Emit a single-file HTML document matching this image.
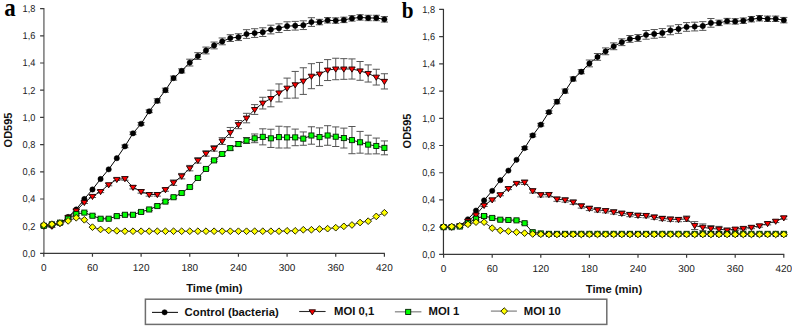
<!DOCTYPE html>
<html><head><meta charset="utf-8"><style>
html,body{margin:0;padding:0;background:#fff;}
body{width:792px;height:326px;overflow:hidden;}
svg{display:block;font-family:'Liberation Sans',sans-serif}
</style></head><body>
<svg width="792" height="326" viewBox="0 0 792 326">
<rect width="792" height="326" fill="#fff"/>
<path d="M43.9 8.1V253.9" stroke="#808080" stroke-width="1.6" fill="none"/><path d="M43 253.4H384.9" stroke="#3a3a3a" stroke-width="1.4" fill="none"/><path d="M40.1 253.4H43.9M40.1 226.2H43.9M40.1 199H43.9M40.1 171.8H43.9M40.1 144.6H43.9M40.1 117.4H43.9M40.1 90.2H43.9M40.1 63H43.9M40.1 35.8H43.9M40.1 8.6H43.9M43.8 253.4V256.8M92.46 253.4V256.8M141.11 253.4V256.8M189.77 253.4V256.8M238.43 253.4V256.8M287.09 253.4V256.8M335.74 253.4V256.8M384.4 253.4V256.8" stroke="#3a3a3a" stroke-width="1.2" fill="none"/><text transform="translate(35.4 256.8) scale(0.92 1)" text-anchor="end" font-size="10" fill="#222" style="text-rendering:geometricPrecision">0,0</text><text transform="translate(35.4 229.6) scale(0.92 1)" text-anchor="end" font-size="10" fill="#222" style="text-rendering:geometricPrecision">0,2</text><text transform="translate(35.4 202.4) scale(0.92 1)" text-anchor="end" font-size="10" fill="#222" style="text-rendering:geometricPrecision">0,4</text><text transform="translate(35.4 175.2) scale(0.92 1)" text-anchor="end" font-size="10" fill="#222" style="text-rendering:geometricPrecision">0,6</text><text transform="translate(35.4 148) scale(0.92 1)" text-anchor="end" font-size="10" fill="#222" style="text-rendering:geometricPrecision">0,8</text><text transform="translate(35.4 120.8) scale(0.92 1)" text-anchor="end" font-size="10" fill="#222" style="text-rendering:geometricPrecision">1,0</text><text transform="translate(35.4 93.6) scale(0.92 1)" text-anchor="end" font-size="10" fill="#222" style="text-rendering:geometricPrecision">1,2</text><text transform="translate(35.4 66.4) scale(0.92 1)" text-anchor="end" font-size="10" fill="#222" style="text-rendering:geometricPrecision">1,4</text><text transform="translate(35.4 39.2) scale(0.92 1)" text-anchor="end" font-size="10" fill="#222" style="text-rendering:geometricPrecision">1,6</text><text transform="translate(35.4 12) scale(0.92 1)" text-anchor="end" font-size="10" fill="#222" style="text-rendering:geometricPrecision">1,8</text><text x="43.8" y="271" text-anchor="middle" font-size="10" fill="#222" style="text-rendering:geometricPrecision">0</text><text x="92.46" y="271" text-anchor="middle" font-size="10" fill="#222" style="text-rendering:geometricPrecision">60</text><text x="141.11" y="271" text-anchor="middle" font-size="10" fill="#222" style="text-rendering:geometricPrecision">120</text><text x="189.77" y="271" text-anchor="middle" font-size="10" fill="#222" style="text-rendering:geometricPrecision">180</text><text x="238.43" y="271" text-anchor="middle" font-size="10" fill="#222" style="text-rendering:geometricPrecision">240</text><text x="287.09" y="271" text-anchor="middle" font-size="10" fill="#222" style="text-rendering:geometricPrecision">300</text><text x="335.74" y="271" text-anchor="middle" font-size="10" fill="#222" style="text-rendering:geometricPrecision">360</text><text x="384.4" y="271" text-anchor="middle" font-size="10" fill="#222" style="text-rendering:geometricPrecision">420</text><text x="214.4" y="291.9" text-anchor="middle" font-size="11.2" font-weight="bold" fill="#111">Time (min)</text><text transform="translate(7.6 130) rotate(-90)" text-anchor="middle" font-size="11" font-weight="bold" fill="#111" y="4">OD595</text><text transform="translate(4.3 15.6) scale(0.9 1)" font-size="25.5" font-weight="bold" style="font-family:'Liberation Serif',serif" fill="#000">a</text><path d="M124.9 145.01V147.73M121.3 145.01H128.5M121.3 147.73H128.5M133 131.95V134.67M129.4 131.95H136.6M129.4 134.67H136.6M141.11 122.43V125.15M137.51 122.43H144.71M137.51 125.15H144.71M149.22 109.92V112.64M145.62 109.92H152.82M145.62 112.64H152.82M157.33 98.77V102.85M153.73 98.77H160.93M153.73 102.85H160.93M165.44 88.16V92.24M161.84 88.16H169.04M161.84 92.24H169.04M173.55 76.06V80.14M169.95 76.06H177.15M169.95 80.14H177.15M181.66 68.85V72.93M178.06 68.85H185.26M178.06 72.93H185.26M189.77 59.19V65.99M186.17 59.19H193.37M186.17 65.99H193.37M197.88 52.66V59.46M194.28 52.66H201.48M194.28 59.46H201.48M205.99 47.09V53.89M202.39 47.09H209.59M202.39 53.89H209.59M214.1 42.06V48.86M210.5 42.06H217.7M210.5 48.86H217.7M222.21 37.98V44.78M218.61 37.98H225.81M218.61 44.78H225.81M230.32 34.71V41.51M226.72 34.71H233.92M226.72 41.51H233.92M238.43 33.76V40.56M234.83 33.76H242.03M234.83 40.56H242.03M246.54 29.68V38.38M242.94 29.68H250.14M242.94 38.38H250.14M254.65 28.73V37.43M251.05 28.73H258.25M251.05 37.43H258.25M262.76 27.78V36.48M259.16 27.78H266.36M259.16 36.48H266.36M270.87 25.19V33.9M267.27 25.19H274.47M267.27 33.9H274.47M278.98 23.83V32.54M275.38 23.83H282.58M275.38 32.54H282.58M287.09 21.79V30.5M283.49 21.79H290.69M283.49 30.5H290.69M295.2 21.38V30.09M291.6 21.38H298.8M291.6 30.09H298.8M303.3 20.84V29.54M299.7 20.84H306.9M299.7 29.54H306.9M311.41 17.71V26.42M307.81 17.71H315.01M307.81 26.42H315.01M319.52 19.34V24.78M315.92 19.34H323.12M315.92 24.78H323.12M327.63 17.58V23.02M324.03 17.58H331.23M324.03 23.02H331.23M335.74 17.85V23.29M332.14 17.85H339.34M332.14 23.29H339.34M343.85 17.17V22.61M340.25 17.17H347.45M340.25 22.61H347.45M351.96 15.67V21.11M348.36 15.67H355.56M348.36 21.11H355.56M360.07 14.72V20.16M356.47 14.72H363.67M356.47 20.16H363.67M368.18 15.26V20.7M364.58 15.26H371.78M364.58 20.7H371.78M376.29 15.26V20.7M372.69 15.26H379.89M372.69 20.7H379.89M384.4 16.62V22.06M380.8 16.62H388M380.8 22.06H388" stroke="#555" stroke-width="1" fill="none"/><polyline points="43.8,225.79 51.91,225.79 60.02,223.21 68.13,216.95 76.24,209.47 84.35,199 92.46,189.48 100.57,179.01 108.68,169.35 116.79,158.2 124.9,146.37 133,133.31 141.11,123.79 149.22,111.28 157.33,100.81 165.44,90.2 173.55,78.1 181.66,70.89 189.77,62.59 197.88,56.06 205.99,50.49 214.1,45.46 222.21,41.38 230.32,38.11 238.43,37.16 246.54,34.03 254.65,33.08 262.76,32.13 270.87,29.54 278.98,28.18 287.09,26.14 295.2,25.74 303.3,25.19 311.41,22.06 319.52,22.06 327.63,20.3 335.74,20.57 343.85,19.89 351.96,18.39 360.07,17.44 368.18,17.98 376.29,17.98 384.4,19.34" fill="none" stroke="#000" stroke-width="1"/><circle cx="43.8" cy="225.79" r="2.65" fill="#000" stroke="#000" stroke-width="0.5"/><circle cx="51.91" cy="225.79" r="2.65" fill="#000" stroke="#000" stroke-width="0.5"/><circle cx="60.02" cy="223.21" r="2.65" fill="#000" stroke="#000" stroke-width="0.5"/><circle cx="68.13" cy="216.95" r="2.65" fill="#000" stroke="#000" stroke-width="0.5"/><circle cx="76.24" cy="209.47" r="2.65" fill="#000" stroke="#000" stroke-width="0.5"/><circle cx="84.35" cy="199" r="2.65" fill="#000" stroke="#000" stroke-width="0.5"/><circle cx="92.46" cy="189.48" r="2.65" fill="#000" stroke="#000" stroke-width="0.5"/><circle cx="100.57" cy="179.01" r="2.65" fill="#000" stroke="#000" stroke-width="0.5"/><circle cx="108.68" cy="169.35" r="2.65" fill="#000" stroke="#000" stroke-width="0.5"/><circle cx="116.79" cy="158.2" r="2.65" fill="#000" stroke="#000" stroke-width="0.5"/><circle cx="124.9" cy="146.37" r="2.65" fill="#000" stroke="#000" stroke-width="0.5"/><circle cx="133" cy="133.31" r="2.65" fill="#000" stroke="#000" stroke-width="0.5"/><circle cx="141.11" cy="123.79" r="2.65" fill="#000" stroke="#000" stroke-width="0.5"/><circle cx="149.22" cy="111.28" r="2.65" fill="#000" stroke="#000" stroke-width="0.5"/><circle cx="157.33" cy="100.81" r="2.65" fill="#000" stroke="#000" stroke-width="0.5"/><circle cx="165.44" cy="90.2" r="2.65" fill="#000" stroke="#000" stroke-width="0.5"/><circle cx="173.55" cy="78.1" r="2.65" fill="#000" stroke="#000" stroke-width="0.5"/><circle cx="181.66" cy="70.89" r="2.65" fill="#000" stroke="#000" stroke-width="0.5"/><circle cx="189.77" cy="62.59" r="2.65" fill="#000" stroke="#000" stroke-width="0.5"/><circle cx="197.88" cy="56.06" r="2.65" fill="#000" stroke="#000" stroke-width="0.5"/><circle cx="205.99" cy="50.49" r="2.65" fill="#000" stroke="#000" stroke-width="0.5"/><circle cx="214.1" cy="45.46" r="2.65" fill="#000" stroke="#000" stroke-width="0.5"/><circle cx="222.21" cy="41.38" r="2.65" fill="#000" stroke="#000" stroke-width="0.5"/><circle cx="230.32" cy="38.11" r="2.65" fill="#000" stroke="#000" stroke-width="0.5"/><circle cx="238.43" cy="37.16" r="2.65" fill="#000" stroke="#000" stroke-width="0.5"/><circle cx="246.54" cy="34.03" r="2.65" fill="#000" stroke="#000" stroke-width="0.5"/><circle cx="254.65" cy="33.08" r="2.65" fill="#000" stroke="#000" stroke-width="0.5"/><circle cx="262.76" cy="32.13" r="2.65" fill="#000" stroke="#000" stroke-width="0.5"/><circle cx="270.87" cy="29.54" r="2.65" fill="#000" stroke="#000" stroke-width="0.5"/><circle cx="278.98" cy="28.18" r="2.65" fill="#000" stroke="#000" stroke-width="0.5"/><circle cx="287.09" cy="26.14" r="2.65" fill="#000" stroke="#000" stroke-width="0.5"/><circle cx="295.2" cy="25.74" r="2.65" fill="#000" stroke="#000" stroke-width="0.5"/><circle cx="303.3" cy="25.19" r="2.65" fill="#000" stroke="#000" stroke-width="0.5"/><circle cx="311.41" cy="22.06" r="2.65" fill="#000" stroke="#000" stroke-width="0.5"/><circle cx="319.52" cy="22.06" r="2.65" fill="#000" stroke="#000" stroke-width="0.5"/><circle cx="327.63" cy="20.3" r="2.65" fill="#000" stroke="#000" stroke-width="0.5"/><circle cx="335.74" cy="20.57" r="2.65" fill="#000" stroke="#000" stroke-width="0.5"/><circle cx="343.85" cy="19.89" r="2.65" fill="#000" stroke="#000" stroke-width="0.5"/><circle cx="351.96" cy="18.39" r="2.65" fill="#000" stroke="#000" stroke-width="0.5"/><circle cx="360.07" cy="17.44" r="2.65" fill="#000" stroke="#000" stroke-width="0.5"/><circle cx="368.18" cy="17.98" r="2.65" fill="#000" stroke="#000" stroke-width="0.5"/><circle cx="376.29" cy="17.98" r="2.65" fill="#000" stroke="#000" stroke-width="0.5"/><circle cx="384.4" cy="19.34" r="2.65" fill="#000" stroke="#000" stroke-width="0.5"/><path d="M43.8 225.11V227.29M40.2 225.11H47.4M40.2 227.29H47.4M51.91 225.11V227.29M48.31 225.11H55.51M48.31 227.29H55.51M60.02 222.39V224.57M56.42 222.39H63.62M56.42 224.57H63.62M68.13 216.27V218.45M64.53 216.27H71.73M64.53 218.45H71.73M76.24 209.74V211.92M72.64 209.74H79.84M72.64 211.92H79.84M84.35 201.31V203.49M80.75 201.31H87.95M80.75 203.49H87.95M92.46 195.33V197.5M88.86 195.33H96.06M88.86 197.5H96.06M100.57 190.43V192.61M96.97 190.43H104.17M96.97 192.61H104.17M108.68 183.63V185.81M105.08 183.63H112.28M105.08 185.81H112.28M116.79 178.33V180.5M113.19 178.33H120.39M113.19 180.5H120.39M124.9 176.97V180.23M121.3 176.97H128.5M121.3 180.23H128.5M133 185.67V188.94M129.4 185.67H136.6M129.4 188.94H136.6M141.11 189.89V193.15M137.51 189.89H144.71M137.51 193.15H144.71M149.22 192.88V196.14M145.62 192.88H152.82M145.62 196.14H152.82M157.33 192.88V196.14M153.73 192.88H160.93M153.73 196.14H160.93M165.44 187.98V191.25M161.84 187.98H169.04M161.84 191.25H169.04M173.55 179.96V185.4M169.95 179.96H177.15M169.95 185.4H177.15M181.66 173.43V178.87M178.06 173.43H185.26M178.06 178.87H185.26M189.77 165.41V170.85M186.17 165.41H193.37M186.17 170.85H193.37M197.88 157.66V163.1M194.28 157.66H201.48M194.28 163.1H201.48M205.99 150.72V156.16M202.39 150.72H209.59M202.39 156.16H209.59M214.1 145.69V151.13M210.5 145.69H217.7M210.5 151.13H217.7M222.21 137.66V144.46M218.61 137.66H225.81M218.61 144.46H225.81M230.32 127.46V137.53M226.72 127.46H233.92M226.72 137.53H233.92M238.43 120.53V128.69M234.83 120.53H242.03M234.83 128.69H242.03M246.54 113.32V122.84M242.94 113.32H250.14M242.94 122.84H250.14M254.65 104.62V114.41M251.05 104.62H258.25M251.05 114.41H258.25M262.76 97.27V108.97M259.16 97.27H266.36M259.16 108.97H266.36M270.87 90.2V106.79M267.27 90.2H274.47M267.27 106.79H274.47M278.98 83.94V101.9M275.38 83.94H282.58M275.38 101.9H282.58M287.09 78.1V98.22M283.49 78.1H290.69M283.49 98.22H290.69M295.2 71.43V98.09M291.6 71.43H298.8M291.6 98.09H298.8M303.3 67.76V94.42M299.7 67.76H306.9M299.7 94.42H306.9M311.41 63.68V88.7M307.81 63.68H315.01M307.81 88.7H315.01M319.52 62.46V85.58M315.92 62.46H323.12M315.92 85.58H323.12M327.63 59.6V80.54M324.03 59.6H331.23M324.03 80.54H331.23M335.74 58.24V79.73M332.14 58.24H339.34M332.14 79.73H339.34M343.85 58.65V79.32M340.25 58.65H347.45M340.25 79.32H347.45M351.96 58.92V79.05M348.36 58.92H355.56M348.36 79.05H355.56M360.07 61.5V80.27M356.47 61.5H363.67M356.47 80.27H363.67M368.18 64.9V82.04M364.58 64.9H371.78M364.58 82.04H371.78M376.29 69.26V85.03M372.69 69.26H379.89M372.69 85.03H379.89M384.4 73.74V88.98M380.8 73.74H388M380.8 88.98H388" stroke="#555" stroke-width="1" fill="none"/><polyline points="43.8,226.2 51.91,226.2 60.02,223.48 68.13,217.36 76.24,210.83 84.35,202.4 92.46,196.42 100.57,191.52 108.68,184.72 116.79,179.42 124.9,178.6 133,187.3 141.11,191.52 149.22,194.51 157.33,194.51 165.44,189.62 173.55,182.68 181.66,176.15 189.77,168.13 197.88,160.38 205.99,153.44 214.1,148.41 222.21,141.06 230.32,132.5 238.43,124.61 246.54,118.08 254.65,109.51 262.76,103.12 270.87,98.5 278.98,92.92 287.09,88.16 295.2,84.76 303.3,81.09 311.41,76.19 319.52,74.02 327.63,70.07 335.74,68.98 343.85,68.98 351.96,68.98 360.07,70.89 368.18,73.47 376.29,77.14 384.4,81.36" fill="none" stroke="#1a1a1a" stroke-width="1"/><path d="M40.6 224.2L47 224.2L43.8 229.35Z" fill="#ff0000" stroke="#1a0000" stroke-width="0.9" stroke-linejoin="miter"/><path d="M48.71 224.2L55.11 224.2L51.91 229.35Z" fill="#ff0000" stroke="#1a0000" stroke-width="0.9" stroke-linejoin="miter"/><path d="M56.82 221.48L63.22 221.48L60.02 226.63Z" fill="#ff0000" stroke="#1a0000" stroke-width="0.9" stroke-linejoin="miter"/><path d="M64.93 215.36L71.33 215.36L68.13 220.51Z" fill="#ff0000" stroke="#1a0000" stroke-width="0.9" stroke-linejoin="miter"/><path d="M73.04 208.83L79.44 208.83L76.24 213.98Z" fill="#ff0000" stroke="#1a0000" stroke-width="0.9" stroke-linejoin="miter"/><path d="M81.15 200.4L87.55 200.4L84.35 205.55Z" fill="#ff0000" stroke="#1a0000" stroke-width="0.9" stroke-linejoin="miter"/><path d="M89.26 194.42L95.66 194.42L92.46 199.57Z" fill="#ff0000" stroke="#1a0000" stroke-width="0.9" stroke-linejoin="miter"/><path d="M97.37 189.52L103.77 189.52L100.57 194.67Z" fill="#ff0000" stroke="#1a0000" stroke-width="0.9" stroke-linejoin="miter"/><path d="M105.48 182.72L111.88 182.72L108.68 187.87Z" fill="#ff0000" stroke="#1a0000" stroke-width="0.9" stroke-linejoin="miter"/><path d="M113.59 177.42L119.99 177.42L116.79 182.57Z" fill="#ff0000" stroke="#1a0000" stroke-width="0.9" stroke-linejoin="miter"/><path d="M121.7 176.6L128.1 176.6L124.9 181.75Z" fill="#ff0000" stroke="#1a0000" stroke-width="0.9" stroke-linejoin="miter"/><path d="M129.8 185.3L136.2 185.3L133 190.45Z" fill="#ff0000" stroke="#1a0000" stroke-width="0.9" stroke-linejoin="miter"/><path d="M137.91 189.52L144.31 189.52L141.11 194.67Z" fill="#ff0000" stroke="#1a0000" stroke-width="0.9" stroke-linejoin="miter"/><path d="M146.02 192.51L152.42 192.51L149.22 197.66Z" fill="#ff0000" stroke="#1a0000" stroke-width="0.9" stroke-linejoin="miter"/><path d="M154.13 192.51L160.53 192.51L157.33 197.66Z" fill="#ff0000" stroke="#1a0000" stroke-width="0.9" stroke-linejoin="miter"/><path d="M162.24 187.62L168.64 187.62L165.44 192.77Z" fill="#ff0000" stroke="#1a0000" stroke-width="0.9" stroke-linejoin="miter"/><path d="M170.35 180.68L176.75 180.68L173.55 185.83Z" fill="#ff0000" stroke="#1a0000" stroke-width="0.9" stroke-linejoin="miter"/><path d="M178.46 174.15L184.86 174.15L181.66 179.3Z" fill="#ff0000" stroke="#1a0000" stroke-width="0.9" stroke-linejoin="miter"/><path d="M186.57 166.13L192.97 166.13L189.77 171.28Z" fill="#ff0000" stroke="#1a0000" stroke-width="0.9" stroke-linejoin="miter"/><path d="M194.68 158.38L201.08 158.38L197.88 163.53Z" fill="#ff0000" stroke="#1a0000" stroke-width="0.9" stroke-linejoin="miter"/><path d="M202.79 151.44L209.19 151.44L205.99 156.59Z" fill="#ff0000" stroke="#1a0000" stroke-width="0.9" stroke-linejoin="miter"/><path d="M210.9 146.41L217.3 146.41L214.1 151.56Z" fill="#ff0000" stroke="#1a0000" stroke-width="0.9" stroke-linejoin="miter"/><path d="M219.01 139.06L225.41 139.06L222.21 144.21Z" fill="#ff0000" stroke="#1a0000" stroke-width="0.9" stroke-linejoin="miter"/><path d="M227.12 130.5L233.52 130.5L230.32 135.65Z" fill="#ff0000" stroke="#1a0000" stroke-width="0.9" stroke-linejoin="miter"/><path d="M235.23 122.61L241.63 122.61L238.43 127.76Z" fill="#ff0000" stroke="#1a0000" stroke-width="0.9" stroke-linejoin="miter"/><path d="M243.34 116.08L249.74 116.08L246.54 121.23Z" fill="#ff0000" stroke="#1a0000" stroke-width="0.9" stroke-linejoin="miter"/><path d="M251.45 107.51L257.85 107.51L254.65 112.66Z" fill="#ff0000" stroke="#1a0000" stroke-width="0.9" stroke-linejoin="miter"/><path d="M259.56 101.12L265.96 101.12L262.76 106.27Z" fill="#ff0000" stroke="#1a0000" stroke-width="0.9" stroke-linejoin="miter"/><path d="M267.67 96.5L274.07 96.5L270.87 101.65Z" fill="#ff0000" stroke="#1a0000" stroke-width="0.9" stroke-linejoin="miter"/><path d="M275.78 90.92L282.18 90.92L278.98 96.07Z" fill="#ff0000" stroke="#1a0000" stroke-width="0.9" stroke-linejoin="miter"/><path d="M283.89 86.16L290.29 86.16L287.09 91.31Z" fill="#ff0000" stroke="#1a0000" stroke-width="0.9" stroke-linejoin="miter"/><path d="M292 82.76L298.4 82.76L295.2 87.91Z" fill="#ff0000" stroke="#1a0000" stroke-width="0.9" stroke-linejoin="miter"/><path d="M300.1 79.09L306.5 79.09L303.3 84.24Z" fill="#ff0000" stroke="#1a0000" stroke-width="0.9" stroke-linejoin="miter"/><path d="M308.21 74.19L314.61 74.19L311.41 79.34Z" fill="#ff0000" stroke="#1a0000" stroke-width="0.9" stroke-linejoin="miter"/><path d="M316.32 72.02L322.72 72.02L319.52 77.17Z" fill="#ff0000" stroke="#1a0000" stroke-width="0.9" stroke-linejoin="miter"/><path d="M324.43 68.07L330.83 68.07L327.63 73.22Z" fill="#ff0000" stroke="#1a0000" stroke-width="0.9" stroke-linejoin="miter"/><path d="M332.54 66.98L338.94 66.98L335.74 72.13Z" fill="#ff0000" stroke="#1a0000" stroke-width="0.9" stroke-linejoin="miter"/><path d="M340.65 66.98L347.05 66.98L343.85 72.13Z" fill="#ff0000" stroke="#1a0000" stroke-width="0.9" stroke-linejoin="miter"/><path d="M348.76 66.98L355.16 66.98L351.96 72.13Z" fill="#ff0000" stroke="#1a0000" stroke-width="0.9" stroke-linejoin="miter"/><path d="M356.87 68.89L363.27 68.89L360.07 74.04Z" fill="#ff0000" stroke="#1a0000" stroke-width="0.9" stroke-linejoin="miter"/><path d="M364.98 71.47L371.38 71.47L368.18 76.62Z" fill="#ff0000" stroke="#1a0000" stroke-width="0.9" stroke-linejoin="miter"/><path d="M373.09 75.14L379.49 75.14L376.29 80.29Z" fill="#ff0000" stroke="#1a0000" stroke-width="0.9" stroke-linejoin="miter"/><path d="M381.2 79.36L387.6 79.36L384.4 84.51Z" fill="#ff0000" stroke="#1a0000" stroke-width="0.9" stroke-linejoin="miter"/><path d="M43.8 224.7V226.88M40.2 224.7H47.4M40.2 226.88H47.4M51.91 223.21V225.38M48.31 223.21H55.51M48.31 225.38H55.51M60.02 221.58V223.75M56.42 221.58H63.62M56.42 223.75H63.62M68.13 217.63V219.81M64.53 217.63H71.73M64.53 219.81H71.73M76.24 213.01V215.18M72.64 213.01H79.84M72.64 215.18H79.84M84.35 211.51V213.69M80.75 211.51H87.95M80.75 213.69H87.95M92.46 214.64V216.82M88.86 214.64H96.06M88.86 216.82H96.06M100.57 217.63V219.81M96.97 217.63H104.17M96.97 219.81H104.17M108.68 217.63V219.81M105.08 217.63H112.28M105.08 219.81H112.28M116.79 215.05V217.22M113.19 215.05H120.39M113.19 217.22H120.39M124.9 213.69V215.86M121.3 213.69H128.5M121.3 215.86H128.5M133 213.69V215.86M129.4 213.69H136.6M129.4 215.86H136.6M141.11 210.83V213.01M137.51 210.83H144.71M137.51 213.01H144.71M149.22 208.38V210.56M145.62 208.38H152.82M145.62 210.56H152.82M157.33 204.98V207.16M153.73 204.98H160.93M153.73 207.16H160.93M165.44 200.5V202.67M161.84 200.5H169.04M161.84 202.67H169.04M173.55 196.14V198.32M169.95 196.14H177.15M169.95 198.32H177.15M181.66 191.93V194.1M178.06 191.93H185.26M178.06 194.1H185.26M189.77 185.94V188.12M186.17 185.94H193.37M186.17 188.12H193.37M197.88 176.83V179.01M194.28 176.83H201.48M194.28 179.01H201.48M205.99 167.86V170.03M202.39 167.86H209.59M202.39 170.03H209.59M214.1 159.29V161.46M210.5 159.29H217.7M210.5 161.46H217.7M222.21 152.35V155.62M218.61 152.35H225.81M218.61 155.62H225.81M230.32 146.1V150.18M226.72 146.1H233.92M226.72 150.18H233.92M238.43 141.61V146.5M234.83 141.61H242.03M234.83 146.5H242.03M246.54 137.53V143.51M242.94 137.53H250.14M242.94 143.51H250.14M254.65 133.99V142.7M251.05 133.99H258.25M251.05 142.7H258.25M262.76 128.82V144.87M259.16 128.82H266.36M259.16 144.87H266.36M270.87 129.23V147.46M267.27 129.23H274.47M267.27 147.46H274.47M278.98 126.24V148M275.38 126.24H282.58M275.38 148H282.58M287.09 126.78V148M283.49 126.78H290.69M283.49 148H290.69M295.2 129.1V145.69M291.6 129.1H298.8M291.6 145.69H298.8M303.3 131.95V145.28M299.7 131.95H306.9M299.7 145.28H306.9M311.41 126.78V144.19M307.81 126.78H315.01M307.81 144.19H315.01M319.52 127.87V146.37M315.92 127.87H323.12M315.92 146.37H323.12M327.63 125.7V145.28M324.03 125.7H331.23M324.03 145.28H331.23M335.74 126.92V146.5M332.14 126.92H339.34M332.14 146.5H339.34M343.85 128.14V148M340.25 128.14H347.45M340.25 148H347.45M351.96 126.51V153.71M348.36 126.51H355.56M348.36 153.71H355.56M360.07 131.41V153.17M356.47 131.41H363.67M356.47 153.17H363.67M368.18 135.22V153.98M364.58 135.22H371.78M364.58 153.98H371.78M376.29 138.07V153.85M372.69 138.07H379.89M372.69 153.85H379.89M384.4 140.93V154.8M380.8 140.93H388M380.8 154.8H388" stroke="#555" stroke-width="1" fill="none"/><polyline points="43.8,225.79 51.91,224.3 60.02,222.66 68.13,218.72 76.24,214.1 84.35,212.6 92.46,215.73 100.57,218.72 108.68,218.72 116.79,216.14 124.9,214.78 133,214.78 141.11,211.92 149.22,209.47 157.33,206.07 165.44,201.58 173.55,197.23 181.66,193.02 189.77,187.03 197.88,177.92 205.99,168.94 214.1,160.38 222.21,153.98 230.32,148.14 238.43,144.06 246.54,140.52 254.65,138.34 262.76,136.85 270.87,138.34 278.98,137.12 287.09,137.39 295.2,137.39 303.3,138.62 311.41,135.49 319.52,137.12 327.63,135.49 335.74,136.71 343.85,138.07 351.96,140.11 360.07,142.29 368.18,144.6 376.29,145.96 384.4,147.86" fill="none" stroke="#1a1a1a" stroke-width="1"/><rect x="41.25" y="223.24" width="5.1" height="5.1" fill="#00ff00" stroke="#042004" stroke-width="0.9"/><rect x="49.36" y="221.75" width="5.1" height="5.1" fill="#00ff00" stroke="#042004" stroke-width="0.9"/><rect x="57.47" y="220.11" width="5.1" height="5.1" fill="#00ff00" stroke="#042004" stroke-width="0.9"/><rect x="65.58" y="216.17" width="5.1" height="5.1" fill="#00ff00" stroke="#042004" stroke-width="0.9"/><rect x="73.69" y="211.55" width="5.1" height="5.1" fill="#00ff00" stroke="#042004" stroke-width="0.9"/><rect x="81.8" y="210.05" width="5.1" height="5.1" fill="#00ff00" stroke="#042004" stroke-width="0.9"/><rect x="89.91" y="213.18" width="5.1" height="5.1" fill="#00ff00" stroke="#042004" stroke-width="0.9"/><rect x="98.02" y="216.17" width="5.1" height="5.1" fill="#00ff00" stroke="#042004" stroke-width="0.9"/><rect x="106.13" y="216.17" width="5.1" height="5.1" fill="#00ff00" stroke="#042004" stroke-width="0.9"/><rect x="114.24" y="213.59" width="5.1" height="5.1" fill="#00ff00" stroke="#042004" stroke-width="0.9"/><rect x="122.35" y="212.23" width="5.1" height="5.1" fill="#00ff00" stroke="#042004" stroke-width="0.9"/><rect x="130.45" y="212.23" width="5.1" height="5.1" fill="#00ff00" stroke="#042004" stroke-width="0.9"/><rect x="138.56" y="209.37" width="5.1" height="5.1" fill="#00ff00" stroke="#042004" stroke-width="0.9"/><rect x="146.67" y="206.92" width="5.1" height="5.1" fill="#00ff00" stroke="#042004" stroke-width="0.9"/><rect x="154.78" y="203.52" width="5.1" height="5.1" fill="#00ff00" stroke="#042004" stroke-width="0.9"/><rect x="162.89" y="199.03" width="5.1" height="5.1" fill="#00ff00" stroke="#042004" stroke-width="0.9"/><rect x="171" y="194.68" width="5.1" height="5.1" fill="#00ff00" stroke="#042004" stroke-width="0.9"/><rect x="179.11" y="190.47" width="5.1" height="5.1" fill="#00ff00" stroke="#042004" stroke-width="0.9"/><rect x="187.22" y="184.48" width="5.1" height="5.1" fill="#00ff00" stroke="#042004" stroke-width="0.9"/><rect x="195.33" y="175.37" width="5.1" height="5.1" fill="#00ff00" stroke="#042004" stroke-width="0.9"/><rect x="203.44" y="166.39" width="5.1" height="5.1" fill="#00ff00" stroke="#042004" stroke-width="0.9"/><rect x="211.55" y="157.83" width="5.1" height="5.1" fill="#00ff00" stroke="#042004" stroke-width="0.9"/><rect x="219.66" y="151.43" width="5.1" height="5.1" fill="#00ff00" stroke="#042004" stroke-width="0.9"/><rect x="227.77" y="145.59" width="5.1" height="5.1" fill="#00ff00" stroke="#042004" stroke-width="0.9"/><rect x="235.88" y="141.51" width="5.1" height="5.1" fill="#00ff00" stroke="#042004" stroke-width="0.9"/><rect x="243.99" y="137.97" width="5.1" height="5.1" fill="#00ff00" stroke="#042004" stroke-width="0.9"/><rect x="252.1" y="135.79" width="5.1" height="5.1" fill="#00ff00" stroke="#042004" stroke-width="0.9"/><rect x="260.21" y="134.3" width="5.1" height="5.1" fill="#00ff00" stroke="#042004" stroke-width="0.9"/><rect x="268.32" y="135.79" width="5.1" height="5.1" fill="#00ff00" stroke="#042004" stroke-width="0.9"/><rect x="276.43" y="134.57" width="5.1" height="5.1" fill="#00ff00" stroke="#042004" stroke-width="0.9"/><rect x="284.54" y="134.84" width="5.1" height="5.1" fill="#00ff00" stroke="#042004" stroke-width="0.9"/><rect x="292.65" y="134.84" width="5.1" height="5.1" fill="#00ff00" stroke="#042004" stroke-width="0.9"/><rect x="300.75" y="136.07" width="5.1" height="5.1" fill="#00ff00" stroke="#042004" stroke-width="0.9"/><rect x="308.86" y="132.94" width="5.1" height="5.1" fill="#00ff00" stroke="#042004" stroke-width="0.9"/><rect x="316.97" y="134.57" width="5.1" height="5.1" fill="#00ff00" stroke="#042004" stroke-width="0.9"/><rect x="325.08" y="132.94" width="5.1" height="5.1" fill="#00ff00" stroke="#042004" stroke-width="0.9"/><rect x="333.19" y="134.16" width="5.1" height="5.1" fill="#00ff00" stroke="#042004" stroke-width="0.9"/><rect x="341.3" y="135.52" width="5.1" height="5.1" fill="#00ff00" stroke="#042004" stroke-width="0.9"/><rect x="349.41" y="137.56" width="5.1" height="5.1" fill="#00ff00" stroke="#042004" stroke-width="0.9"/><rect x="357.52" y="139.74" width="5.1" height="5.1" fill="#00ff00" stroke="#042004" stroke-width="0.9"/><rect x="365.63" y="142.05" width="5.1" height="5.1" fill="#00ff00" stroke="#042004" stroke-width="0.9"/><rect x="373.74" y="143.41" width="5.1" height="5.1" fill="#00ff00" stroke="#042004" stroke-width="0.9"/><rect x="381.85" y="145.31" width="5.1" height="5.1" fill="#00ff00" stroke="#042004" stroke-width="0.9"/><polyline points="43.8,224.98 51.91,224.16 60.02,223.07 68.13,220.9 76.24,217.77 84.35,219.81 92.46,227.15 100.57,229.46 108.68,230.42 116.79,230.82 124.9,231.23 133,231.23 141.11,231.23 149.22,231.23 157.33,231.23 165.44,231.23 173.55,231.23 181.66,231.23 189.77,231.23 197.88,231.23 205.99,231.23 214.1,231.23 222.21,231.23 230.32,231.23 238.43,231.23 246.54,231.23 254.65,231.23 262.76,231.23 270.87,231.23 278.98,231.23 287.09,230.82 295.2,230.82 303.3,229.74 311.41,229.74 319.52,229.06 327.63,228.65 335.74,227.7 343.85,226.34 351.96,224.98 360.07,222.53 368.18,221.17 376.29,216.41 384.4,212.74" fill="none" stroke="#333" stroke-width="1"/><path d="M43.8 221.63L47.15 224.98L43.8 228.33L40.45 224.98Z" fill="#ffff00" stroke="#262600" stroke-width="1"/><path d="M51.91 220.81L55.26 224.16L51.91 227.51L48.56 224.16Z" fill="#ffff00" stroke="#262600" stroke-width="1"/><path d="M60.02 219.72L63.37 223.07L60.02 226.42L56.67 223.07Z" fill="#ffff00" stroke="#262600" stroke-width="1"/><path d="M68.13 217.55L71.48 220.9L68.13 224.25L64.78 220.9Z" fill="#ffff00" stroke="#262600" stroke-width="1"/><path d="M76.24 214.42L79.59 217.77L76.24 221.12L72.89 217.77Z" fill="#ffff00" stroke="#262600" stroke-width="1"/><path d="M84.35 216.46L87.7 219.81L84.35 223.16L81 219.81Z" fill="#ffff00" stroke="#262600" stroke-width="1"/><path d="M92.46 223.8L95.81 227.15L92.46 230.5L89.11 227.15Z" fill="#ffff00" stroke="#262600" stroke-width="1"/><path d="M100.57 226.11L103.92 229.46L100.57 232.81L97.22 229.46Z" fill="#ffff00" stroke="#262600" stroke-width="1"/><path d="M108.68 227.07L112.03 230.42L108.68 233.77L105.33 230.42Z" fill="#ffff00" stroke="#262600" stroke-width="1"/><path d="M116.79 227.47L120.14 230.82L116.79 234.17L113.44 230.82Z" fill="#ffff00" stroke="#262600" stroke-width="1"/><path d="M124.9 227.88L128.25 231.23L124.9 234.58L121.55 231.23Z" fill="#ffff00" stroke="#262600" stroke-width="1"/><path d="M133 227.88L136.35 231.23L133 234.58L129.65 231.23Z" fill="#ffff00" stroke="#262600" stroke-width="1"/><path d="M141.11 227.88L144.46 231.23L141.11 234.58L137.76 231.23Z" fill="#ffff00" stroke="#262600" stroke-width="1"/><path d="M149.22 227.88L152.57 231.23L149.22 234.58L145.87 231.23Z" fill="#ffff00" stroke="#262600" stroke-width="1"/><path d="M157.33 227.88L160.68 231.23L157.33 234.58L153.98 231.23Z" fill="#ffff00" stroke="#262600" stroke-width="1"/><path d="M165.44 227.88L168.79 231.23L165.44 234.58L162.09 231.23Z" fill="#ffff00" stroke="#262600" stroke-width="1"/><path d="M173.55 227.88L176.9 231.23L173.55 234.58L170.2 231.23Z" fill="#ffff00" stroke="#262600" stroke-width="1"/><path d="M181.66 227.88L185.01 231.23L181.66 234.58L178.31 231.23Z" fill="#ffff00" stroke="#262600" stroke-width="1"/><path d="M189.77 227.88L193.12 231.23L189.77 234.58L186.42 231.23Z" fill="#ffff00" stroke="#262600" stroke-width="1"/><path d="M197.88 227.88L201.23 231.23L197.88 234.58L194.53 231.23Z" fill="#ffff00" stroke="#262600" stroke-width="1"/><path d="M205.99 227.88L209.34 231.23L205.99 234.58L202.64 231.23Z" fill="#ffff00" stroke="#262600" stroke-width="1"/><path d="M214.1 227.88L217.45 231.23L214.1 234.58L210.75 231.23Z" fill="#ffff00" stroke="#262600" stroke-width="1"/><path d="M222.21 227.88L225.56 231.23L222.21 234.58L218.86 231.23Z" fill="#ffff00" stroke="#262600" stroke-width="1"/><path d="M230.32 227.88L233.67 231.23L230.32 234.58L226.97 231.23Z" fill="#ffff00" stroke="#262600" stroke-width="1"/><path d="M238.43 227.88L241.78 231.23L238.43 234.58L235.08 231.23Z" fill="#ffff00" stroke="#262600" stroke-width="1"/><path d="M246.54 227.88L249.89 231.23L246.54 234.58L243.19 231.23Z" fill="#ffff00" stroke="#262600" stroke-width="1"/><path d="M254.65 227.88L258 231.23L254.65 234.58L251.3 231.23Z" fill="#ffff00" stroke="#262600" stroke-width="1"/><path d="M262.76 227.88L266.11 231.23L262.76 234.58L259.41 231.23Z" fill="#ffff00" stroke="#262600" stroke-width="1"/><path d="M270.87 227.88L274.22 231.23L270.87 234.58L267.52 231.23Z" fill="#ffff00" stroke="#262600" stroke-width="1"/><path d="M278.98 227.88L282.33 231.23L278.98 234.58L275.63 231.23Z" fill="#ffff00" stroke="#262600" stroke-width="1"/><path d="M287.09 227.47L290.44 230.82L287.09 234.17L283.74 230.82Z" fill="#ffff00" stroke="#262600" stroke-width="1"/><path d="M295.2 227.47L298.55 230.82L295.2 234.17L291.85 230.82Z" fill="#ffff00" stroke="#262600" stroke-width="1"/><path d="M303.3 226.39L306.65 229.74L303.3 233.09L299.95 229.74Z" fill="#ffff00" stroke="#262600" stroke-width="1"/><path d="M311.41 226.39L314.76 229.74L311.41 233.09L308.06 229.74Z" fill="#ffff00" stroke="#262600" stroke-width="1"/><path d="M319.52 225.71L322.87 229.06L319.52 232.41L316.17 229.06Z" fill="#ffff00" stroke="#262600" stroke-width="1"/><path d="M327.63 225.3L330.98 228.65L327.63 232L324.28 228.65Z" fill="#ffff00" stroke="#262600" stroke-width="1"/><path d="M335.74 224.35L339.09 227.7L335.74 231.05L332.39 227.7Z" fill="#ffff00" stroke="#262600" stroke-width="1"/><path d="M343.85 222.99L347.2 226.34L343.85 229.69L340.5 226.34Z" fill="#ffff00" stroke="#262600" stroke-width="1"/><path d="M351.96 221.63L355.31 224.98L351.96 228.33L348.61 224.98Z" fill="#ffff00" stroke="#262600" stroke-width="1"/><path d="M360.07 219.18L363.42 222.53L360.07 225.88L356.72 222.53Z" fill="#ffff00" stroke="#262600" stroke-width="1"/><path d="M368.18 217.82L371.53 221.17L368.18 224.52L364.83 221.17Z" fill="#ffff00" stroke="#262600" stroke-width="1"/><path d="M376.29 213.06L379.64 216.41L376.29 219.76L372.94 216.41Z" fill="#ffff00" stroke="#262600" stroke-width="1"/><path d="M384.4 209.39L387.75 212.74L384.4 216.09L381.05 212.74Z" fill="#ffff00" stroke="#262600" stroke-width="1"/><path d="M443.45 8.9V254.9" stroke="#333" stroke-width="1.2" fill="none"/><path d="M442.8 254.4H784.3" stroke="#3a3a3a" stroke-width="1.4" fill="none"/><path d="M439.15 254.4H443.45M439.15 227.18H443.45M439.15 199.96H443.45M439.15 172.73H443.45M439.15 145.51H443.45M439.15 118.29H443.45M439.15 91.07H443.45M439.15 63.84H443.45M439.15 36.62H443.45M439.15 9.4H443.45M443.6 254.4V257.8M492.2 254.4V257.8M540.8 254.4V257.8M589.4 254.4V257.8M638 254.4V257.8M686.6 254.4V257.8M735.2 254.4V257.8M783.8 254.4V257.8" stroke="#3a3a3a" stroke-width="1.2" fill="none"/><text transform="translate(435 257.8) scale(0.92 1)" text-anchor="end" font-size="10" fill="#222" style="text-rendering:geometricPrecision">0,0</text><text transform="translate(435 230.58) scale(0.92 1)" text-anchor="end" font-size="10" fill="#222" style="text-rendering:geometricPrecision">0,2</text><text transform="translate(435 203.36) scale(0.92 1)" text-anchor="end" font-size="10" fill="#222" style="text-rendering:geometricPrecision">0,4</text><text transform="translate(435 176.13) scale(0.92 1)" text-anchor="end" font-size="10" fill="#222" style="text-rendering:geometricPrecision">0,6</text><text transform="translate(435 148.91) scale(0.92 1)" text-anchor="end" font-size="10" fill="#222" style="text-rendering:geometricPrecision">0,8</text><text transform="translate(435 121.69) scale(0.92 1)" text-anchor="end" font-size="10" fill="#222" style="text-rendering:geometricPrecision">1,0</text><text transform="translate(435 94.47) scale(0.92 1)" text-anchor="end" font-size="10" fill="#222" style="text-rendering:geometricPrecision">1,2</text><text transform="translate(435 67.24) scale(0.92 1)" text-anchor="end" font-size="10" fill="#222" style="text-rendering:geometricPrecision">1,4</text><text transform="translate(435 40.02) scale(0.92 1)" text-anchor="end" font-size="10" fill="#222" style="text-rendering:geometricPrecision">1,6</text><text transform="translate(435 12.8) scale(0.92 1)" text-anchor="end" font-size="10" fill="#222" style="text-rendering:geometricPrecision">1,8</text><text x="443.6" y="272" text-anchor="middle" font-size="10" fill="#222" style="text-rendering:geometricPrecision">0</text><text x="492.2" y="272" text-anchor="middle" font-size="10" fill="#222" style="text-rendering:geometricPrecision">60</text><text x="540.8" y="272" text-anchor="middle" font-size="10" fill="#222" style="text-rendering:geometricPrecision">120</text><text x="589.4" y="272" text-anchor="middle" font-size="10" fill="#222" style="text-rendering:geometricPrecision">180</text><text x="638" y="272" text-anchor="middle" font-size="10" fill="#222" style="text-rendering:geometricPrecision">240</text><text x="686.6" y="272" text-anchor="middle" font-size="10" fill="#222" style="text-rendering:geometricPrecision">300</text><text x="735.2" y="272" text-anchor="middle" font-size="10" fill="#222" style="text-rendering:geometricPrecision">360</text><text x="783.8" y="272" text-anchor="middle" font-size="10" fill="#222" style="text-rendering:geometricPrecision">420</text><text x="614" y="293.1" text-anchor="middle" font-size="11.2" font-weight="bold" fill="#111">Time (min)</text><text transform="translate(406.6 131) rotate(-90)" text-anchor="middle" font-size="11" font-weight="bold" fill="#111" y="4">OD595</text><text transform="translate(401.7 17.9) scale(0.9 1)" font-size="23.5" font-weight="bold" style="font-family:'Liberation Serif',serif" fill="#000">b</text><path d="M524.6 146.74V149.46M521 146.74H528.2M521 149.46H528.2M532.7 134.08V136.8M529.1 134.08H536.3M529.1 136.8H536.3M540.8 123.33V126.05M537.2 123.33H544.4M537.2 126.05H544.4M548.9 110.8V113.53M545.3 110.8H552.5M545.3 113.53H552.5M557 99.64V103.72M553.4 99.64H560.6M553.4 103.72H560.6M565.1 89.02V93.11M561.5 89.02H568.7M561.5 93.11H568.7M573.2 76.91V80.99M569.6 76.91H576.8M569.6 80.99H576.8M581.3 69.7V73.78M577.7 69.7H584.9M577.7 73.78H584.9M589.4 60.03V66.84M585.8 60.03H593M585.8 66.84H593M597.5 53.5V60.31M593.9 53.5H601.1M593.9 60.31H601.1M605.6 47.92V54.73M602 47.92H609.2M602 54.73H609.2M613.7 42.88V49.69M610.1 42.88H617.3M610.1 49.69H617.3M621.8 38.8V45.61M618.2 38.8H625.4M618.2 45.61H625.4M629.9 35.53V42.34M626.3 35.53H633.5M626.3 42.34H633.5M638 34.58V41.39M634.4 34.58H641.6M634.4 41.39H641.6M646.1 30.5V39.21M642.5 30.5H649.7M642.5 39.21H649.7M654.2 29.54V38.26M650.6 29.54H657.8M650.6 38.26H657.8M662.3 28.59V37.3M658.7 28.59H665.9M658.7 37.3H665.9M670.4 26.01V34.72M666.8 26.01H674M666.8 34.72H674M678.5 24.64V33.36M674.9 24.64H682.1M674.9 33.36H682.1M686.6 22.6V31.31M683 22.6H690.2M683 31.31H690.2M694.7 22.19V30.91M691.1 22.19H698.3M691.1 30.91H698.3M702.8 21.65V30.36M699.2 21.65H706.4M699.2 30.36H706.4M710.9 18.52V27.23M707.3 18.52H714.5M707.3 27.23H714.5M719 20.15V25.6M715.4 20.15H722.6M715.4 25.6H722.6M727.1 18.38V23.83M723.5 18.38H730.7M723.5 23.83H730.7M735.2 18.66V24.1M731.6 18.66H738.8M731.6 24.1H738.8M743.3 17.98V23.42M739.7 17.98H746.9M739.7 23.42H746.9M751.4 16.48V21.92M747.8 16.48H755M747.8 21.92H755M759.5 15.52V20.97M755.9 15.52H763.1M755.9 20.97H763.1M767.6 16.07V21.51M764 16.07H771.2M764 21.51H771.2M775.7 16.07V21.51M772.1 16.07H779.3M772.1 21.51H779.3M783.8 17.43V22.87M780.2 17.43H787.4M780.2 22.87H787.4" stroke="#555" stroke-width="1" fill="none"/><polyline points="443.6,226.77 451.7,226.77 459.8,225.82 467.9,219.28 476,210.57 484.1,200.36 492.2,190.84 500.3,180.22 508.4,170.56 516.5,159.8 524.6,148.1 532.7,135.44 540.8,124.69 548.9,112.16 557,101.68 565.1,91.07 573.2,78.95 581.3,71.74 589.4,63.44 597.5,56.9 605.6,51.32 613.7,46.29 621.8,42.2 629.9,38.94 638,37.98 646.1,34.85 654.2,33.9 662.3,32.95 670.4,30.36 678.5,29 686.6,26.96 694.7,26.55 702.8,26.01 710.9,22.88 719,22.88 727.1,21.11 735.2,21.38 743.3,20.7 751.4,19.2 759.5,18.25 767.6,18.79 775.7,18.79 783.8,20.15" fill="none" stroke="#000" stroke-width="1"/><circle cx="443.6" cy="226.77" r="2.65" fill="#000" stroke="#000" stroke-width="0.5"/><circle cx="451.7" cy="226.77" r="2.65" fill="#000" stroke="#000" stroke-width="0.5"/><circle cx="459.8" cy="225.82" r="2.65" fill="#000" stroke="#000" stroke-width="0.5"/><circle cx="467.9" cy="219.28" r="2.65" fill="#000" stroke="#000" stroke-width="0.5"/><circle cx="476" cy="210.57" r="2.65" fill="#000" stroke="#000" stroke-width="0.5"/><circle cx="484.1" cy="200.36" r="2.65" fill="#000" stroke="#000" stroke-width="0.5"/><circle cx="492.2" cy="190.84" r="2.65" fill="#000" stroke="#000" stroke-width="0.5"/><circle cx="500.3" cy="180.22" r="2.65" fill="#000" stroke="#000" stroke-width="0.5"/><circle cx="508.4" cy="170.56" r="2.65" fill="#000" stroke="#000" stroke-width="0.5"/><circle cx="516.5" cy="159.8" r="2.65" fill="#000" stroke="#000" stroke-width="0.5"/><circle cx="524.6" cy="148.1" r="2.65" fill="#000" stroke="#000" stroke-width="0.5"/><circle cx="532.7" cy="135.44" r="2.65" fill="#000" stroke="#000" stroke-width="0.5"/><circle cx="540.8" cy="124.69" r="2.65" fill="#000" stroke="#000" stroke-width="0.5"/><circle cx="548.9" cy="112.16" r="2.65" fill="#000" stroke="#000" stroke-width="0.5"/><circle cx="557" cy="101.68" r="2.65" fill="#000" stroke="#000" stroke-width="0.5"/><circle cx="565.1" cy="91.07" r="2.65" fill="#000" stroke="#000" stroke-width="0.5"/><circle cx="573.2" cy="78.95" r="2.65" fill="#000" stroke="#000" stroke-width="0.5"/><circle cx="581.3" cy="71.74" r="2.65" fill="#000" stroke="#000" stroke-width="0.5"/><circle cx="589.4" cy="63.44" r="2.65" fill="#000" stroke="#000" stroke-width="0.5"/><circle cx="597.5" cy="56.9" r="2.65" fill="#000" stroke="#000" stroke-width="0.5"/><circle cx="605.6" cy="51.32" r="2.65" fill="#000" stroke="#000" stroke-width="0.5"/><circle cx="613.7" cy="46.29" r="2.65" fill="#000" stroke="#000" stroke-width="0.5"/><circle cx="621.8" cy="42.2" r="2.65" fill="#000" stroke="#000" stroke-width="0.5"/><circle cx="629.9" cy="38.94" r="2.65" fill="#000" stroke="#000" stroke-width="0.5"/><circle cx="638" cy="37.98" r="2.65" fill="#000" stroke="#000" stroke-width="0.5"/><circle cx="646.1" cy="34.85" r="2.65" fill="#000" stroke="#000" stroke-width="0.5"/><circle cx="654.2" cy="33.9" r="2.65" fill="#000" stroke="#000" stroke-width="0.5"/><circle cx="662.3" cy="32.95" r="2.65" fill="#000" stroke="#000" stroke-width="0.5"/><circle cx="670.4" cy="30.36" r="2.65" fill="#000" stroke="#000" stroke-width="0.5"/><circle cx="678.5" cy="29" r="2.65" fill="#000" stroke="#000" stroke-width="0.5"/><circle cx="686.6" cy="26.96" r="2.65" fill="#000" stroke="#000" stroke-width="0.5"/><circle cx="694.7" cy="26.55" r="2.65" fill="#000" stroke="#000" stroke-width="0.5"/><circle cx="702.8" cy="26.01" r="2.65" fill="#000" stroke="#000" stroke-width="0.5"/><circle cx="710.9" cy="22.88" r="2.65" fill="#000" stroke="#000" stroke-width="0.5"/><circle cx="719" cy="22.88" r="2.65" fill="#000" stroke="#000" stroke-width="0.5"/><circle cx="727.1" cy="21.11" r="2.65" fill="#000" stroke="#000" stroke-width="0.5"/><circle cx="735.2" cy="21.38" r="2.65" fill="#000" stroke="#000" stroke-width="0.5"/><circle cx="743.3" cy="20.7" r="2.65" fill="#000" stroke="#000" stroke-width="0.5"/><circle cx="751.4" cy="19.2" r="2.65" fill="#000" stroke="#000" stroke-width="0.5"/><circle cx="759.5" cy="18.25" r="2.65" fill="#000" stroke="#000" stroke-width="0.5"/><circle cx="767.6" cy="18.79" r="2.65" fill="#000" stroke="#000" stroke-width="0.5"/><circle cx="775.7" cy="18.79" r="2.65" fill="#000" stroke="#000" stroke-width="0.5"/><circle cx="783.8" cy="20.15" r="2.65" fill="#000" stroke="#000" stroke-width="0.5"/><path d="M443.6 226.09V228.27M440 226.09H447.2M440 228.27H447.2M451.7 226.09V228.27M448.1 226.09H455.3M448.1 228.27H455.3M459.8 224.73V226.91M456.2 224.73H463.4M456.2 226.91H463.4M467.9 219.96V222.14M464.3 219.96H471.5M464.3 222.14H471.5M476 213.84V216.02M472.4 213.84H479.6M472.4 216.02H479.6M484.1 204.31V206.49M480.5 204.31H487.7M480.5 206.49H487.7M492.2 198.73V200.91M488.6 198.73H495.8M488.6 200.91H495.8M500.3 193.56V195.74M496.7 193.56H503.9M496.7 195.74H503.9M508.4 187.43V189.61M504.8 187.43H512M504.8 189.61H512M516.5 182.26V184.44M512.9 182.26H520.1M512.9 184.44H520.1M524.6 180.08V184.44M521 180.08H528.2M521 184.44H528.2M532.7 188.66V193.01M529.1 188.66H536.3M529.1 193.01H536.3M540.8 192.61V196.96M537.2 192.61H544.4M537.2 196.96H544.4M548.9 192.47V196.83M545.3 192.47H552.5M545.3 196.83H552.5M557 196.96V201.32M553.4 196.96H560.6M553.4 201.32H560.6M565.1 197.78V202.13M561.5 197.78H568.7M561.5 202.13H568.7M573.2 199.96V204.31M569.6 199.96H576.8M569.6 204.31H576.8M581.3 203.77V208.12M577.7 203.77H584.9M577.7 208.12H584.9M589.4 206.22V210.57M585.8 206.22H593M585.8 210.57H593M597.5 207.71V212.07M593.9 207.71H601.1M593.9 212.07H601.1M605.6 208.53V212.89M602 208.53H609.2M602 212.89H609.2M613.7 209.76V214.11M610.1 209.76H617.3M610.1 214.11H617.3M621.8 211.12V215.47M618.2 211.12H625.4M618.2 215.47H625.4M629.9 212.34V216.7M626.3 212.34H633.5M626.3 216.7H633.5M638 213.16V217.51M634.4 213.16H641.6M634.4 217.51H641.6M646.1 213.43V217.79M642.5 213.43H649.7M642.5 217.79H649.7M654.2 214.93V219.28M650.6 214.93H657.8M650.6 219.28H657.8M662.3 216.29V220.64M658.7 216.29H665.9M658.7 220.64H665.9M670.4 216.97V221.33M666.8 216.97H674M666.8 221.33H674M678.5 217.38V221.73M674.9 217.38H682.1M674.9 221.73H682.1M686.6 216.02V221.46M683 216.02H690.2M683 221.46H690.2M694.7 221.6V229.49M691.1 221.6H698.3M691.1 229.49H698.3M702.8 223.91V230.72M699.2 223.91H706.4M699.2 230.72H706.4M710.9 225.54V231.53M707.3 225.54H714.5M707.3 231.53H714.5M719 226.36V231.81M715.4 226.36H722.6M715.4 231.81H722.6M727.1 228.13V232.21M723.5 228.13H730.7M723.5 232.21H730.7M735.2 227.72V230.44M731.6 227.72H738.8M731.6 230.44H738.8M743.3 227.04V229.76M739.7 227.04H746.9M739.7 229.76H746.9M751.4 225.95V228.68M747.8 225.95H755M747.8 228.68H755M759.5 224.46V227.18M755.9 224.46H763.1M755.9 227.18H763.1M767.6 222.14V224.86M764 222.14H771.2M764 224.86H771.2M775.7 219.83V222.55M772.1 219.83H779.3M772.1 222.55H779.3M783.8 216.42V219.15M780.2 216.42H787.4M780.2 219.15H787.4" stroke="#555" stroke-width="1" fill="none"/><polyline points="443.6,227.18 451.7,227.18 459.8,225.82 467.9,221.05 476,214.93 484.1,205.4 492.2,199.82 500.3,194.65 508.4,188.52 516.5,183.35 524.6,182.26 532.7,190.84 540.8,194.78 548.9,194.65 557,199.14 565.1,199.96 573.2,202.13 581.3,205.94 589.4,208.39 597.5,209.89 605.6,210.71 613.7,211.93 621.8,213.29 629.9,214.52 638,215.34 646.1,215.61 654.2,217.11 662.3,218.47 670.4,219.15 678.5,219.56 686.6,218.74 694.7,225.54 702.8,227.31 710.9,228.54 719,229.08 727.1,230.17 735.2,229.08 743.3,228.4 751.4,227.31 759.5,225.82 767.6,223.5 775.7,221.19 783.8,217.79" fill="none" stroke="#1a1a1a" stroke-width="1"/><path d="M440.4 225.18L446.8 225.18L443.6 230.33Z" fill="#ff0000" stroke="#1a0000" stroke-width="0.9" stroke-linejoin="miter"/><path d="M448.5 225.18L454.9 225.18L451.7 230.33Z" fill="#ff0000" stroke="#1a0000" stroke-width="0.9" stroke-linejoin="miter"/><path d="M456.6 223.82L463 223.82L459.8 228.97Z" fill="#ff0000" stroke="#1a0000" stroke-width="0.9" stroke-linejoin="miter"/><path d="M464.7 219.05L471.1 219.05L467.9 224.2Z" fill="#ff0000" stroke="#1a0000" stroke-width="0.9" stroke-linejoin="miter"/><path d="M472.8 212.93L479.2 212.93L476 218.08Z" fill="#ff0000" stroke="#1a0000" stroke-width="0.9" stroke-linejoin="miter"/><path d="M480.9 203.4L487.3 203.4L484.1 208.55Z" fill="#ff0000" stroke="#1a0000" stroke-width="0.9" stroke-linejoin="miter"/><path d="M489 197.82L495.4 197.82L492.2 202.97Z" fill="#ff0000" stroke="#1a0000" stroke-width="0.9" stroke-linejoin="miter"/><path d="M497.1 192.65L503.5 192.65L500.3 197.8Z" fill="#ff0000" stroke="#1a0000" stroke-width="0.9" stroke-linejoin="miter"/><path d="M505.2 186.52L511.6 186.52L508.4 191.67Z" fill="#ff0000" stroke="#1a0000" stroke-width="0.9" stroke-linejoin="miter"/><path d="M513.3 181.35L519.7 181.35L516.5 186.5Z" fill="#ff0000" stroke="#1a0000" stroke-width="0.9" stroke-linejoin="miter"/><path d="M521.4 180.26L527.8 180.26L524.6 185.41Z" fill="#ff0000" stroke="#1a0000" stroke-width="0.9" stroke-linejoin="miter"/><path d="M529.5 188.84L535.9 188.84L532.7 193.99Z" fill="#ff0000" stroke="#1a0000" stroke-width="0.9" stroke-linejoin="miter"/><path d="M537.6 192.78L544 192.78L540.8 197.93Z" fill="#ff0000" stroke="#1a0000" stroke-width="0.9" stroke-linejoin="miter"/><path d="M545.7 192.65L552.1 192.65L548.9 197.8Z" fill="#ff0000" stroke="#1a0000" stroke-width="0.9" stroke-linejoin="miter"/><path d="M553.8 197.14L560.2 197.14L557 202.29Z" fill="#ff0000" stroke="#1a0000" stroke-width="0.9" stroke-linejoin="miter"/><path d="M561.9 197.96L568.3 197.96L565.1 203.11Z" fill="#ff0000" stroke="#1a0000" stroke-width="0.9" stroke-linejoin="miter"/><path d="M570 200.13L576.4 200.13L573.2 205.28Z" fill="#ff0000" stroke="#1a0000" stroke-width="0.9" stroke-linejoin="miter"/><path d="M578.1 203.94L584.5 203.94L581.3 209.09Z" fill="#ff0000" stroke="#1a0000" stroke-width="0.9" stroke-linejoin="miter"/><path d="M586.2 206.39L592.6 206.39L589.4 211.54Z" fill="#ff0000" stroke="#1a0000" stroke-width="0.9" stroke-linejoin="miter"/><path d="M594.3 207.89L600.7 207.89L597.5 213.04Z" fill="#ff0000" stroke="#1a0000" stroke-width="0.9" stroke-linejoin="miter"/><path d="M602.4 208.71L608.8 208.71L605.6 213.86Z" fill="#ff0000" stroke="#1a0000" stroke-width="0.9" stroke-linejoin="miter"/><path d="M610.5 209.93L616.9 209.93L613.7 215.08Z" fill="#ff0000" stroke="#1a0000" stroke-width="0.9" stroke-linejoin="miter"/><path d="M618.6 211.29L625 211.29L621.8 216.44Z" fill="#ff0000" stroke="#1a0000" stroke-width="0.9" stroke-linejoin="miter"/><path d="M626.7 212.52L633.1 212.52L629.9 217.67Z" fill="#ff0000" stroke="#1a0000" stroke-width="0.9" stroke-linejoin="miter"/><path d="M634.8 213.34L641.2 213.34L638 218.49Z" fill="#ff0000" stroke="#1a0000" stroke-width="0.9" stroke-linejoin="miter"/><path d="M642.9 213.61L649.3 213.61L646.1 218.76Z" fill="#ff0000" stroke="#1a0000" stroke-width="0.9" stroke-linejoin="miter"/><path d="M651 215.11L657.4 215.11L654.2 220.26Z" fill="#ff0000" stroke="#1a0000" stroke-width="0.9" stroke-linejoin="miter"/><path d="M659.1 216.47L665.5 216.47L662.3 221.62Z" fill="#ff0000" stroke="#1a0000" stroke-width="0.9" stroke-linejoin="miter"/><path d="M667.2 217.15L673.6 217.15L670.4 222.3Z" fill="#ff0000" stroke="#1a0000" stroke-width="0.9" stroke-linejoin="miter"/><path d="M675.3 217.56L681.7 217.56L678.5 222.71Z" fill="#ff0000" stroke="#1a0000" stroke-width="0.9" stroke-linejoin="miter"/><path d="M683.4 216.74L689.8 216.74L686.6 221.89Z" fill="#ff0000" stroke="#1a0000" stroke-width="0.9" stroke-linejoin="miter"/><path d="M691.5 223.54L697.9 223.54L694.7 228.69Z" fill="#ff0000" stroke="#1a0000" stroke-width="0.9" stroke-linejoin="miter"/><path d="M699.6 225.31L706 225.31L702.8 230.46Z" fill="#ff0000" stroke="#1a0000" stroke-width="0.9" stroke-linejoin="miter"/><path d="M707.7 226.54L714.1 226.54L710.9 231.69Z" fill="#ff0000" stroke="#1a0000" stroke-width="0.9" stroke-linejoin="miter"/><path d="M715.8 227.08L722.2 227.08L719 232.23Z" fill="#ff0000" stroke="#1a0000" stroke-width="0.9" stroke-linejoin="miter"/><path d="M723.9 228.17L730.3 228.17L727.1 233.32Z" fill="#ff0000" stroke="#1a0000" stroke-width="0.9" stroke-linejoin="miter"/><path d="M732 227.08L738.4 227.08L735.2 232.23Z" fill="#ff0000" stroke="#1a0000" stroke-width="0.9" stroke-linejoin="miter"/><path d="M740.1 226.4L746.5 226.4L743.3 231.55Z" fill="#ff0000" stroke="#1a0000" stroke-width="0.9" stroke-linejoin="miter"/><path d="M748.2 225.31L754.6 225.31L751.4 230.46Z" fill="#ff0000" stroke="#1a0000" stroke-width="0.9" stroke-linejoin="miter"/><path d="M756.3 223.82L762.7 223.82L759.5 228.97Z" fill="#ff0000" stroke="#1a0000" stroke-width="0.9" stroke-linejoin="miter"/><path d="M764.4 221.5L770.8 221.5L767.6 226.65Z" fill="#ff0000" stroke="#1a0000" stroke-width="0.9" stroke-linejoin="miter"/><path d="M772.5 219.19L778.9 219.19L775.7 224.34Z" fill="#ff0000" stroke="#1a0000" stroke-width="0.9" stroke-linejoin="miter"/><path d="M780.6 215.79L787 215.79L783.8 220.94Z" fill="#ff0000" stroke="#1a0000" stroke-width="0.9" stroke-linejoin="miter"/><path d="M443.6 226.09V228.27M440 226.09H447.2M440 228.27H447.2M451.7 226.09V228.27M448.1 226.09H455.3M448.1 228.27H455.3M459.8 225.41V227.59M456.2 225.41H463.4M456.2 227.59H463.4M467.9 222.01V224.18M464.3 222.01H471.5M464.3 224.18H471.5M476 217.65V219.83M472.4 217.65H479.6M472.4 219.83H479.6M484.1 214.93V217.11M480.5 214.93H487.7M480.5 217.11H487.7M492.2 216.83V219.01M488.6 216.83H495.8M488.6 219.01H495.8M500.3 218.6V220.78M496.7 218.6H503.9M496.7 220.78H503.9M508.4 218.88V221.05M504.8 218.88H512M504.8 221.05H512M516.5 219.28V221.46M512.9 219.28H520.1M512.9 221.46H520.1M524.6 222.14V224.32M521 222.14H528.2M521 224.32H528.2M532.7 231.12V233.3M529.1 231.12H536.3M529.1 233.3H536.3M540.8 232.35V234.53M537.2 232.35H544.4M537.2 234.53H544.4M548.9 232.76V234.94M545.3 232.76H552.5M545.3 234.94H552.5M557 232.76V234.94M553.4 232.76H560.6M553.4 234.94H560.6M565.1 232.76V234.94M561.5 232.76H568.7M561.5 234.94H568.7M573.2 232.76V234.94M569.6 232.76H576.8M569.6 234.94H576.8M581.3 232.76V234.94M577.7 232.76H584.9M577.7 234.94H584.9M589.4 232.76V234.94M585.8 232.76H593M585.8 234.94H593M597.5 232.76V234.94M593.9 232.76H601.1M593.9 234.94H601.1M605.6 232.76V234.94M602 232.76H609.2M602 234.94H609.2M613.7 232.76V234.94M610.1 232.76H617.3M610.1 234.94H617.3M621.8 232.76V234.94M618.2 232.76H625.4M618.2 234.94H625.4M629.9 232.76V234.94M626.3 232.76H633.5M626.3 234.94H633.5M638 232.76V234.94M634.4 232.76H641.6M634.4 234.94H641.6M646.1 232.76V234.94M642.5 232.76H649.7M642.5 234.94H649.7M654.2 232.76V234.94M650.6 232.76H657.8M650.6 234.94H657.8M662.3 232.76V234.94M658.7 232.76H665.9M658.7 234.94H665.9M670.4 232.76V234.94M666.8 232.76H674M666.8 234.94H674M678.5 232.76V234.94M674.9 232.76H682.1M674.9 234.94H682.1M686.6 232.76V234.94M683 232.76H690.2M683 234.94H690.2M694.7 232.76V234.94M691.1 232.76H698.3M691.1 234.94H698.3M702.8 232.76V234.94M699.2 232.76H706.4M699.2 234.94H706.4M710.9 232.76V234.94M707.3 232.76H714.5M707.3 234.94H714.5M719 232.76V234.94M715.4 232.76H722.6M715.4 234.94H722.6M727.1 232.76V234.94M723.5 232.76H730.7M723.5 234.94H730.7M735.2 232.76V234.94M731.6 232.76H738.8M731.6 234.94H738.8M743.3 232.76V234.94M739.7 232.76H746.9M739.7 234.94H746.9M751.4 232.76V234.94M747.8 232.76H755M747.8 234.94H755M759.5 232.76V234.94M755.9 232.76H763.1M755.9 234.94H763.1M767.6 232.76V234.94M764 232.76H771.2M764 234.94H771.2M775.7 232.76V234.94M772.1 232.76H779.3M772.1 234.94H779.3M783.8 232.76V234.94M780.2 232.76H787.4M780.2 234.94H787.4" stroke="#555" stroke-width="1" fill="none"/><polyline points="443.6,227.18 451.7,227.18 459.8,226.5 467.9,223.09 476,218.74 484.1,216.02 492.2,217.92 500.3,219.69 508.4,219.96 516.5,220.37 524.6,223.23 532.7,232.21 540.8,233.44 548.9,233.85 557,233.85 565.1,233.85 573.2,233.85 581.3,233.85 589.4,233.85 597.5,233.85 605.6,233.85 613.7,233.85 621.8,233.85 629.9,233.85 638,233.85 646.1,233.85 654.2,233.85 662.3,233.85 670.4,233.85 678.5,233.85 686.6,233.85 694.7,233.85 702.8,233.85 710.9,233.85 719,233.85 727.1,233.85 735.2,233.85 743.3,233.85 751.4,233.85 759.5,233.85 767.6,233.85 775.7,233.85 783.8,233.85" fill="none" stroke="#1a1a1a" stroke-width="1"/><rect x="441.05" y="224.63" width="5.1" height="5.1" fill="#00ff00" stroke="#042004" stroke-width="0.9"/><rect x="449.15" y="224.63" width="5.1" height="5.1" fill="#00ff00" stroke="#042004" stroke-width="0.9"/><rect x="457.25" y="223.95" width="5.1" height="5.1" fill="#00ff00" stroke="#042004" stroke-width="0.9"/><rect x="465.35" y="220.54" width="5.1" height="5.1" fill="#00ff00" stroke="#042004" stroke-width="0.9"/><rect x="473.45" y="216.19" width="5.1" height="5.1" fill="#00ff00" stroke="#042004" stroke-width="0.9"/><rect x="481.55" y="213.47" width="5.1" height="5.1" fill="#00ff00" stroke="#042004" stroke-width="0.9"/><rect x="489.65" y="215.37" width="5.1" height="5.1" fill="#00ff00" stroke="#042004" stroke-width="0.9"/><rect x="497.75" y="217.14" width="5.1" height="5.1" fill="#00ff00" stroke="#042004" stroke-width="0.9"/><rect x="505.85" y="217.41" width="5.1" height="5.1" fill="#00ff00" stroke="#042004" stroke-width="0.9"/><rect x="513.95" y="217.82" width="5.1" height="5.1" fill="#00ff00" stroke="#042004" stroke-width="0.9"/><rect x="522.05" y="220.68" width="5.1" height="5.1" fill="#00ff00" stroke="#042004" stroke-width="0.9"/><rect x="530.15" y="229.66" width="5.1" height="5.1" fill="#00ff00" stroke="#042004" stroke-width="0.9"/><rect x="538.25" y="230.89" width="5.1" height="5.1" fill="#00ff00" stroke="#042004" stroke-width="0.9"/><rect x="546.35" y="231.3" width="5.1" height="5.1" fill="#00ff00" stroke="#042004" stroke-width="0.9"/><rect x="554.45" y="231.3" width="5.1" height="5.1" fill="#00ff00" stroke="#042004" stroke-width="0.9"/><rect x="562.55" y="231.3" width="5.1" height="5.1" fill="#00ff00" stroke="#042004" stroke-width="0.9"/><rect x="570.65" y="231.3" width="5.1" height="5.1" fill="#00ff00" stroke="#042004" stroke-width="0.9"/><rect x="578.75" y="231.3" width="5.1" height="5.1" fill="#00ff00" stroke="#042004" stroke-width="0.9"/><rect x="586.85" y="231.3" width="5.1" height="5.1" fill="#00ff00" stroke="#042004" stroke-width="0.9"/><rect x="594.95" y="231.3" width="5.1" height="5.1" fill="#00ff00" stroke="#042004" stroke-width="0.9"/><rect x="603.05" y="231.3" width="5.1" height="5.1" fill="#00ff00" stroke="#042004" stroke-width="0.9"/><rect x="611.15" y="231.3" width="5.1" height="5.1" fill="#00ff00" stroke="#042004" stroke-width="0.9"/><rect x="619.25" y="231.3" width="5.1" height="5.1" fill="#00ff00" stroke="#042004" stroke-width="0.9"/><rect x="627.35" y="231.3" width="5.1" height="5.1" fill="#00ff00" stroke="#042004" stroke-width="0.9"/><rect x="635.45" y="231.3" width="5.1" height="5.1" fill="#00ff00" stroke="#042004" stroke-width="0.9"/><rect x="643.55" y="231.3" width="5.1" height="5.1" fill="#00ff00" stroke="#042004" stroke-width="0.9"/><rect x="651.65" y="231.3" width="5.1" height="5.1" fill="#00ff00" stroke="#042004" stroke-width="0.9"/><rect x="659.75" y="231.3" width="5.1" height="5.1" fill="#00ff00" stroke="#042004" stroke-width="0.9"/><rect x="667.85" y="231.3" width="5.1" height="5.1" fill="#00ff00" stroke="#042004" stroke-width="0.9"/><rect x="675.95" y="231.3" width="5.1" height="5.1" fill="#00ff00" stroke="#042004" stroke-width="0.9"/><rect x="684.05" y="231.3" width="5.1" height="5.1" fill="#00ff00" stroke="#042004" stroke-width="0.9"/><rect x="692.15" y="231.3" width="5.1" height="5.1" fill="#00ff00" stroke="#042004" stroke-width="0.9"/><rect x="700.25" y="231.3" width="5.1" height="5.1" fill="#00ff00" stroke="#042004" stroke-width="0.9"/><rect x="708.35" y="231.3" width="5.1" height="5.1" fill="#00ff00" stroke="#042004" stroke-width="0.9"/><rect x="716.45" y="231.3" width="5.1" height="5.1" fill="#00ff00" stroke="#042004" stroke-width="0.9"/><rect x="724.55" y="231.3" width="5.1" height="5.1" fill="#00ff00" stroke="#042004" stroke-width="0.9"/><rect x="732.65" y="231.3" width="5.1" height="5.1" fill="#00ff00" stroke="#042004" stroke-width="0.9"/><rect x="740.75" y="231.3" width="5.1" height="5.1" fill="#00ff00" stroke="#042004" stroke-width="0.9"/><rect x="748.85" y="231.3" width="5.1" height="5.1" fill="#00ff00" stroke="#042004" stroke-width="0.9"/><rect x="756.95" y="231.3" width="5.1" height="5.1" fill="#00ff00" stroke="#042004" stroke-width="0.9"/><rect x="765.05" y="231.3" width="5.1" height="5.1" fill="#00ff00" stroke="#042004" stroke-width="0.9"/><rect x="773.15" y="231.3" width="5.1" height="5.1" fill="#00ff00" stroke="#042004" stroke-width="0.9"/><rect x="781.25" y="231.3" width="5.1" height="5.1" fill="#00ff00" stroke="#042004" stroke-width="0.9"/><polyline points="443.6,226.77 451.7,226.5 459.8,225.82 467.9,224.32 476,222.14 484.1,222.14 492.2,228.13 500.3,230.44 508.4,231.26 516.5,232.21 524.6,233.17 532.7,233.98 540.8,234.26 548.9,234.46 557,234.46 565.1,234.46 573.2,234.46 581.3,234.46 589.4,234.46 597.5,234.46 605.6,234.46 613.7,234.46 621.8,234.46 629.9,234.46 638,234.46 646.1,234.46 654.2,234.46 662.3,234.46 670.4,234.46 678.5,234.46 686.6,234.46 694.7,234.46 702.8,234.46 710.9,234.46 719,234.46 727.1,234.46 735.2,234.46 743.3,234.46 751.4,234.46 759.5,234.46 767.6,234.46 775.7,234.46 783.8,234.46" fill="none" stroke="#333" stroke-width="1"/><path d="M443.6 223.42L446.95 226.77L443.6 230.12L440.25 226.77Z" fill="#ffff00" stroke="#262600" stroke-width="1"/><path d="M451.7 223.15L455.05 226.5L451.7 229.85L448.35 226.5Z" fill="#ffff00" stroke="#262600" stroke-width="1"/><path d="M459.8 222.47L463.15 225.82L459.8 229.17L456.45 225.82Z" fill="#ffff00" stroke="#262600" stroke-width="1"/><path d="M467.9 220.97L471.25 224.32L467.9 227.67L464.55 224.32Z" fill="#ffff00" stroke="#262600" stroke-width="1"/><path d="M476 218.79L479.35 222.14L476 225.49L472.65 222.14Z" fill="#ffff00" stroke="#262600" stroke-width="1"/><path d="M484.1 218.79L487.45 222.14L484.1 225.49L480.75 222.14Z" fill="#ffff00" stroke="#262600" stroke-width="1"/><path d="M492.2 224.78L495.55 228.13L492.2 231.48L488.85 228.13Z" fill="#ffff00" stroke="#262600" stroke-width="1"/><path d="M500.3 227.09L503.65 230.44L500.3 233.79L496.95 230.44Z" fill="#ffff00" stroke="#262600" stroke-width="1"/><path d="M508.4 227.91L511.75 231.26L508.4 234.61L505.05 231.26Z" fill="#ffff00" stroke="#262600" stroke-width="1"/><path d="M516.5 228.86L519.85 232.21L516.5 235.56L513.15 232.21Z" fill="#ffff00" stroke="#262600" stroke-width="1"/><path d="M524.6 229.82L527.95 233.17L524.6 236.52L521.25 233.17Z" fill="#ffff00" stroke="#262600" stroke-width="1"/><path d="M532.7 230.63L536.05 233.98L532.7 237.33L529.35 233.98Z" fill="#ffff00" stroke="#262600" stroke-width="1"/><path d="M540.8 230.91L544.15 234.26L540.8 237.61L537.45 234.26Z" fill="#ffff00" stroke="#262600" stroke-width="1"/><path d="M548.9 231.11L552.25 234.46L548.9 237.81L545.55 234.46Z" fill="#ffff00" stroke="#262600" stroke-width="1"/><path d="M557 231.11L560.35 234.46L557 237.81L553.65 234.46Z" fill="#ffff00" stroke="#262600" stroke-width="1"/><path d="M565.1 231.11L568.45 234.46L565.1 237.81L561.75 234.46Z" fill="#ffff00" stroke="#262600" stroke-width="1"/><path d="M573.2 231.11L576.55 234.46L573.2 237.81L569.85 234.46Z" fill="#ffff00" stroke="#262600" stroke-width="1"/><path d="M581.3 231.11L584.65 234.46L581.3 237.81L577.95 234.46Z" fill="#ffff00" stroke="#262600" stroke-width="1"/><path d="M589.4 231.11L592.75 234.46L589.4 237.81L586.05 234.46Z" fill="#ffff00" stroke="#262600" stroke-width="1"/><path d="M597.5 231.11L600.85 234.46L597.5 237.81L594.15 234.46Z" fill="#ffff00" stroke="#262600" stroke-width="1"/><path d="M605.6 231.11L608.95 234.46L605.6 237.81L602.25 234.46Z" fill="#ffff00" stroke="#262600" stroke-width="1"/><path d="M613.7 231.11L617.05 234.46L613.7 237.81L610.35 234.46Z" fill="#ffff00" stroke="#262600" stroke-width="1"/><path d="M621.8 231.11L625.15 234.46L621.8 237.81L618.45 234.46Z" fill="#ffff00" stroke="#262600" stroke-width="1"/><path d="M629.9 231.11L633.25 234.46L629.9 237.81L626.55 234.46Z" fill="#ffff00" stroke="#262600" stroke-width="1"/><path d="M638 231.11L641.35 234.46L638 237.81L634.65 234.46Z" fill="#ffff00" stroke="#262600" stroke-width="1"/><path d="M646.1 231.11L649.45 234.46L646.1 237.81L642.75 234.46Z" fill="#ffff00" stroke="#262600" stroke-width="1"/><path d="M654.2 231.11L657.55 234.46L654.2 237.81L650.85 234.46Z" fill="#ffff00" stroke="#262600" stroke-width="1"/><path d="M662.3 231.11L665.65 234.46L662.3 237.81L658.95 234.46Z" fill="#ffff00" stroke="#262600" stroke-width="1"/><path d="M670.4 231.11L673.75 234.46L670.4 237.81L667.05 234.46Z" fill="#ffff00" stroke="#262600" stroke-width="1"/><path d="M678.5 231.11L681.85 234.46L678.5 237.81L675.15 234.46Z" fill="#ffff00" stroke="#262600" stroke-width="1"/><path d="M686.6 231.11L689.95 234.46L686.6 237.81L683.25 234.46Z" fill="#ffff00" stroke="#262600" stroke-width="1"/><path d="M694.7 231.11L698.05 234.46L694.7 237.81L691.35 234.46Z" fill="#ffff00" stroke="#262600" stroke-width="1"/><path d="M702.8 231.11L706.15 234.46L702.8 237.81L699.45 234.46Z" fill="#ffff00" stroke="#262600" stroke-width="1"/><path d="M710.9 231.11L714.25 234.46L710.9 237.81L707.55 234.46Z" fill="#ffff00" stroke="#262600" stroke-width="1"/><path d="M719 231.11L722.35 234.46L719 237.81L715.65 234.46Z" fill="#ffff00" stroke="#262600" stroke-width="1"/><path d="M727.1 231.11L730.45 234.46L727.1 237.81L723.75 234.46Z" fill="#ffff00" stroke="#262600" stroke-width="1"/><path d="M735.2 231.11L738.55 234.46L735.2 237.81L731.85 234.46Z" fill="#ffff00" stroke="#262600" stroke-width="1"/><path d="M743.3 231.11L746.65 234.46L743.3 237.81L739.95 234.46Z" fill="#ffff00" stroke="#262600" stroke-width="1"/><path d="M751.4 231.11L754.75 234.46L751.4 237.81L748.05 234.46Z" fill="#ffff00" stroke="#262600" stroke-width="1"/><path d="M759.5 231.11L762.85 234.46L759.5 237.81L756.15 234.46Z" fill="#ffff00" stroke="#262600" stroke-width="1"/><path d="M767.6 231.11L770.95 234.46L767.6 237.81L764.25 234.46Z" fill="#ffff00" stroke="#262600" stroke-width="1"/><path d="M775.7 231.11L779.05 234.46L775.7 237.81L772.35 234.46Z" fill="#ffff00" stroke="#262600" stroke-width="1"/><path d="M783.8 231.11L787.15 234.46L783.8 237.81L780.45 234.46Z" fill="#ffff00" stroke="#262600" stroke-width="1"/>
<rect x="145.4" y="299.2" width="461.4" height="25.2" fill="#fff" stroke="#6e6e6e" stroke-width="1.5"/><path d="M152 312.4H178" stroke="#1a1a1a" stroke-width="1.1"/><circle cx="164.6" cy="312.3" r="2.65" fill="#000" stroke="#000" stroke-width="0.5"/><path d="M299.2 311.5H325.6" stroke="#2a2a2a" stroke-width="1.1"/><path d="M309.1 309.8L315.5 309.8L312.3 314.95Z" fill="#ff0000" stroke="#1a0000" stroke-width="0.9" stroke-linejoin="miter"/><path d="M394.9 311.8H421.4" stroke="#8a8a8a" stroke-width="1.3"/><rect x="405.65" y="309.35" width="5.1" height="5.1" fill="#00ff00" stroke="#042004" stroke-width="0.9"/><path d="M490.9 311.1H516.9" stroke="#8a8a8a" stroke-width="1.3"/><path d="M504.2 307.75L507.55 311.1L504.2 314.45L500.85 311.1Z" fill="#ffff00" stroke="#262600" stroke-width="1"/><text x="184.6" y="316.3" font-size="11.3" font-weight="bold" fill="#111">Control (bacteria)</text><text x="334" y="315.3" font-size="11.3" font-weight="bold" fill="#111">MOI 0,1</text><text x="428.6" y="315.3" font-size="11.3" font-weight="bold" fill="#111">MOI 1</text><text x="523.8" y="315.3" font-size="11.3" font-weight="bold" fill="#111">MOI 10</text>
</svg>
</body></html>
